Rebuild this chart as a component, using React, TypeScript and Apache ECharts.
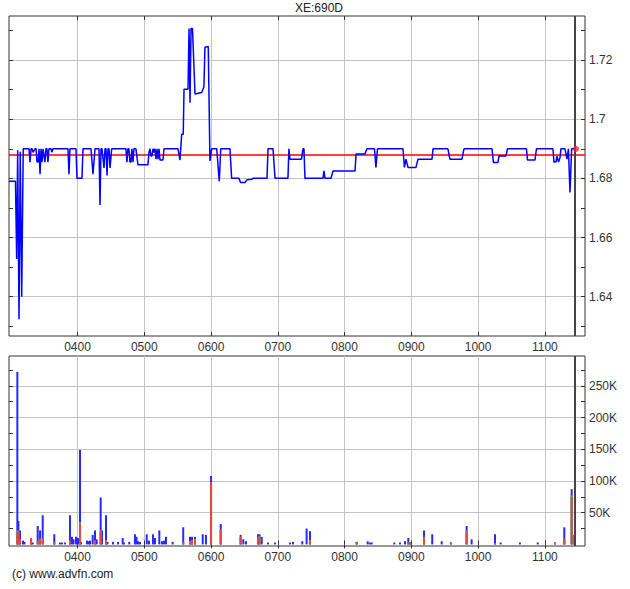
import React, { useEffect, useRef } from 'react';
import * as echarts from 'echarts';

const TITLE = 'XE:690D';
const COPYRIGHT = '(c) www.advfn.com';

// time axis in minutes since midnight
const X_MIN = 178.4;
const X_MAX = 696.1;
const HOUR_TICKS = [240, 300, 360, 420, 480, 540, 600, 660];

const PRICE_MIN = 1.6267;
const PRICE_MAX = 1.7349;
const PRICE_LABELS = [1.64, 1.66, 1.68, 1.7, 1.72];
const PRICE_TICKS = [1.63, 1.64, 1.65, 1.66, 1.67, 1.68, 1.69, 1.7, 1.71, 1.72, 1.73];
const PREV_CLOSE = 1.688;
const NOW_TIME = 687.1;
const LAST_TIME = 688.0;
const LAST_PRICE = 1.69;

const VOL_MIN = -2500;
const VOL_MAX = 297000;
const VOL_LABELS = [50000, 100000, 150000, 200000, 250000];
const VOL_TICKS = [25000, 50000, 75000, 100000, 125000, 150000, 175000, 200000, 225000, 250000, 275000];

const priceTime = [
  178.4, 184.2, 185.3, 186.2, 187.4, 188.5, 189.8, 191.2, 196.4, 197.3, 198.2, 199.1, 200.0, 201.8, 202.7,
  203.6, 204.5, 205.4, 206.3, 207.2, 208.1, 209.0, 210.7, 211.6, 212.5, 213.4, 214.3, 216.1, 217.0, 217.9,
  231.4, 232.3, 233.2, 238.6, 239.5, 244.0, 244.9, 252.1, 253.9, 255.7, 259.3, 260.2, 261.1, 262.0, 263.8,
  264.7, 265.6, 266.5, 267.4, 268.3, 269.2, 270.7, 283.5, 284.4, 285.3, 286.2, 287.1, 288.0, 288.9, 289.8,
  290.7, 292.5, 294.3, 303.3, 304.2, 305.1, 306.0, 306.9, 307.8, 308.7, 309.6, 310.5, 311.4, 312.3, 313.2,
  314.1, 316.8, 317.7, 330.3, 332.1, 333.6, 335.0, 335.7, 339.3, 340.2, 341.1, 342.0, 343.3, 345.6, 351.6,
  353.6, 354.5, 357.5, 359.0, 360.6, 365.1, 367.4, 368.7, 377.0, 378.5, 385.1, 386.5, 390.5, 392.3, 396.8,
  397.7, 410.3, 411.2, 415.7, 417.5, 429.1, 430.0, 430.9, 441.3, 442.6, 443.5, 444.4, 460.6, 461.5, 462.4,
  467.8, 469.6, 489.4, 490.3, 498.3, 500.1, 506.9, 508.2, 509.6, 532.5, 533.8, 535.2, 537.0, 544.2, 546.0,
  558.6, 559.5, 572.9, 574.7, 585.5, 587.3, 612.5, 613.8, 617.9, 618.8, 625.1, 626.4, 643.5, 644.4, 651.1,
  652.5, 667.3, 668.2, 670.0, 670.9, 672.3, 673.6, 674.5, 678.1, 679.9, 681.2, 682.6, 684.1, 687.1,
];
const priceValue = [
  1.679, 1.679, 1.6527, 1.6895, 1.6324, 1.689, 1.64, 1.69, 1.69, 1.6855, 1.69, 1.69, 1.6888, 1.69, 1.69,
  1.6855, 1.6855, 1.69, 1.6814, 1.69, 1.6855, 1.69, 1.6855, 1.69, 1.69, 1.6855, 1.69, 1.69, 1.6888, 1.69,
  1.69, 1.6814, 1.69, 1.69, 1.68, 1.68, 1.69, 1.69, 1.6814, 1.69, 1.69, 1.671, 1.69, 1.69, 1.6835,
  1.69, 1.69, 1.681, 1.69, 1.69, 1.6835, 1.69, 1.69, 1.6855, 1.69, 1.69, 1.6855, 1.6855, 1.69, 1.6855,
  1.69, 1.69, 1.6846, 1.6846, 1.6888, 1.69, 1.6876, 1.6876, 1.69, 1.6887, 1.69, 1.6865, 1.69, 1.6865, 1.69,
  1.6862, 1.6862, 1.69, 1.69, 1.6862, 1.6949, 1.6949, 1.7101, 1.7101, 1.7307, 1.7056, 1.7307, 1.7307, 1.7085, 1.709,
  1.711, 1.7243, 1.7246, 1.6859, 1.69, 1.69, 1.679, 1.69, 1.69, 1.68, 1.68, 1.6786, 1.6786, 1.6795, 1.6797,
  1.68, 1.68, 1.69, 1.69, 1.68, 1.68, 1.69, 1.6865, 1.6865, 1.69, 1.69, 1.68, 1.68, 1.6825, 1.68,
  1.68, 1.6825, 1.6825, 1.6882, 1.6882, 1.69, 1.69, 1.6837, 1.69, 1.69, 1.6837, 1.6865, 1.6837, 1.6837, 1.6865,
  1.6865, 1.69, 1.69, 1.6865, 1.6865, 1.69, 1.69, 1.6854, 1.6854, 1.6876, 1.6876, 1.69, 1.69, 1.6862, 1.6862,
  1.69, 1.69, 1.6855, 1.6855, 1.6875, 1.6855, 1.687, 1.69, 1.69, 1.6865, 1.69, 1.6752, 1.69, 1.69,
];

const volTime = [
  185.9, 186.8, 188.3, 191.0, 192.3, 198.2, 199.7, 204.2, 206.3, 208.7, 219.1, 224.2, 226.0, 228.7, 233.2,
  235.0, 236.4, 238.6, 240.4, 242.2, 243.1, 248.5, 250.3, 251.2, 253.6, 255.7, 257.2, 260.8, 262.0, 265.6,
  266.9, 271.9, 276.4, 280.6, 281.7, 286.5, 291.6, 293.0, 294.3, 296.1, 302.2, 304.2, 307.8, 309.6, 313.5,
  315.9, 317.7, 319.5, 325.5, 335.0, 341.1, 342.9, 345.6, 352.5, 355.4, 360.0, 368.7, 386.6, 389.0, 391.4,
  402.2, 403.5, 405.5, 411.2, 417.5, 430.9, 433.6, 442.0, 445.9, 448.9, 490.9, 500.8, 502.8, 504.4, 524.7,
  529.8, 534.3, 537.3, 538.8, 551.4, 558.8, 567.3, 575.6, 589.7, 594.2, 615.2, 620.3, 637.6, 653.6, 669.1,
  677.5, 684.1, 686.5,
];
const volSell = [
  20000, 20000, 8000, 0, 0, 10000, 0, 5000, 8000, 8000, 3000, 0, 0, 0, 5000,
  0, 0, 0, 0, 33000, 0, 0, 0, 0, 0, 5000, 0, 20000, 0, 6000,
  0, 0, 0, 0, 0, 0, 0, 0, 0, 0, 0, 0, 0, 0, 0,
  0, 0, 0, 0, 4000, 4000, 6000, 8000, 0, 0, 98000, 23000, 12000, 0, 0,
  10000, 12000, 0, 0, 0, 0, 0, 0, 0, 6000, 4000, 0, 0, 0, 0,
  0, 0, 3000, 3000, 11000, 0, 0, 3000, 20000, 0, 2000, 0, 0, 0, 3000,
  8000, 75000, 5000,
];
const volMid = [
  2000, 1500, 0, 0, 0, 0, 0, 1000, 1000, 1000, 0, 0, 0, 0, 1000,
  0, 0, 0, 0, 2000, 0, 0, 0, 0, 0, 1000, 0, 2000, 0, 1000,
  0, 0, 0, 0, 0, 0, 0, 0, 0, 0, 0, 0, 0, 0, 0,
  0, 0, 0, 0, 0, 1000, 1000, 1000, 0, 0, 0, 1000, 0, 0, 0,
  1000, 1000, 0, 0, 0, 0, 0, 0, 0, 1000, 0, 0, 0, 0, 0,
  0, 0, 0, 0, 1000, 0, 0, 0, 1500, 0, 0, 0, 0, 0, 0,
  1000, 2000, 0,
];
const volBuy = [
  250000, 15500, 14000, 6000, 4000, 0, 3000, 23000, 13000, 37000, 13000, 3000, 3000, 3000, 40000,
  12000, 8000, 12000, 10000, 114000, 4000, 6000, 5000, 6000, 15000, 16000, 8000, 52000, 22000, 39000,
  4000, 4000, 4000, 10000, 3000, 4000, 16000, 12000, 5000, 4000, 16000, 6000, 16000, 10000, 22000,
  5000, 6000, 12000, 4000, 23000, 7000, 5000, 3000, 16000, 15000, 10000, 8000, 3000, 8000, 5000,
  5000, 3000, 12000, 3000, 3000, 3000, 4000, 5000, 25000, 14000, 0, 5000, 3000, 3000, 3000,
  3000, 5000, 7000, 0, 10000, 16000, 5000, 0, 7500, 8000, 14000, 3000, 3000, 3000, 0,
  18000, 10000, 10000,
];

const FONT = 'Arial, "Liberation Sans", sans-serif';
const TEXT_COLOR = '#333';
const GRID_COLOR = '#c4c4c4';
const FRAME_COLOR = '#333';

const hourLabel = (v: number) => {
  const h = Math.floor(v / 60);
  const m = Math.round(v % 60);
  return String(h).padStart(2, '0') + String(m).padStart(2, '0');
};

function makeX(gridIndex: number, position: 'bottom' | 'top', main: boolean) {
  return {
    gridIndex,
    type: 'value',
    min: X_MIN,
    max: X_MAX,
    position,
    axisLine: { show: false },
    axisTick: {
      show: true,
      inside: true,
      length: 4,
      customValues: HOUR_TICKS,
      lineStyle: { color: FRAME_COLOR, width: 1 },
    },
    axisLabel: main
      ? {
          show: true,
          customValues: HOUR_TICKS,
          formatter: hourLabel,
          color: TEXT_COLOR,
          fontSize: 12,
          fontFamily: FONT,
          margin: 5,
        }
      : { show: false },
    splitLine: { show: main, lineStyle: { color: GRID_COLOR, width: 1 } },
  };
}

function makeYMain(gridIndex: number, min: number, max: number, labels: number[], fmt?: (v: number) => string) {
  return {
    gridIndex,
    type: 'value',
    position: 'right',
    min,
    max,
    axisLine: { show: false },
    axisTick: { show: false, customValues: labels },
    axisLabel: {
      show: true,
      customValues: labels,
      formatter: fmt,
      color: TEXT_COLOR,
      fontSize: 12,
      fontFamily: FONT,
      margin: 4,
    },
    splitLine: { show: true, lineStyle: { color: GRID_COLOR, width: 1 } },
  };
}

function makeYTicks(gridIndex: number, min: number, max: number, ticks: number[], position: 'left' | 'right') {
  return {
    gridIndex,
    type: 'value',
    position,
    min,
    max,
    axisLine: { show: false },
    axisTick: {
      show: true,
      inside: true,
      length: 4,
      customValues: ticks,
      lineStyle: { color: FRAME_COLOR, width: 1 },
    },
    axisLabel: { show: false },
    splitLine: { show: false },
  };
}

export default function App() {
  const ref = useRef<HTMLDivElement>(null);

  useEffect(() => {
    if (!ref.current) return;
    const chart = echarts.init(ref.current, undefined, { renderer: 'svg' });
    const priceData = priceTime.map((t, i) => [t, priceValue[i]]);
    // cumulative tops of the three stacked parts (red at the bottom, green, blue on top)
    const sellTop = volTime.map((t, i) => [t, volSell[i]]);
    const midTop = volTime.map((t, i) => [t, volSell[i] + volMid[i]]);
    const buyTop = volTime.map((t, i) => [t, volSell[i] + volMid[i] + volBuy[i]]);

    const barBase = {
      type: 'bar',
      xAxisIndex: 2,
      yAxisIndex: 3,
      barWidth: 2,
      barGap: '-100%',
      silent: true,
    };

    chart.setOption({
      animation: false,
      backgroundColor: '#ffffff',
      textStyle: { fontFamily: FONT },
      grid: [
        { left: 9, top: 16, width: 576, height: 320, show: true, borderColor: FRAME_COLOR, borderWidth: 1, backgroundColor: 'transparent' },
        { left: 9, top: 356, width: 576, height: 190, show: true, borderColor: FRAME_COLOR, borderWidth: 1, backgroundColor: 'transparent' },
      ],
      xAxis: [makeX(0, 'bottom', true), makeX(0, 'top', false), makeX(1, 'bottom', true), makeX(1, 'top', false)],
      yAxis: [
        makeYMain(0, PRICE_MIN, PRICE_MAX, PRICE_LABELS),
        makeYTicks(0, PRICE_MIN, PRICE_MAX, PRICE_TICKS, 'right'),
        makeYTicks(0, PRICE_MIN, PRICE_MAX, PRICE_TICKS, 'left'),
        makeYMain(1, VOL_MIN, VOL_MAX, VOL_LABELS, (v: number) => v / 1000 + 'K'),
        makeYTicks(1, VOL_MIN, VOL_MAX, VOL_TICKS, 'right'),
        makeYTicks(1, VOL_MIN, VOL_MAX, VOL_TICKS, 'left'),
      ],
      graphic: [
        {
          type: 'text',
          left: 295,
          top: 2,
          style: { text: TITLE, fill: '#222', font: '12px ' + FONT },
        },
        {
          type: 'text',
          left: 12,
          top: 568,
          style: { text: COPYRIGHT, fill: '#222', font: '12px ' + FONT },
        },
      ],
      series: [
        {
          type: 'line',
          name: 'price',
          xAxisIndex: 0,
          yAxisIndex: 0,
          data: priceData,
          symbol: 'none',
          lineStyle: { color: '#0000ff', width: 1.5 },
          z: 5,
          markLine: {
            silent: true,
            precision: 4,
            symbol: ['none', 'none'],
            label: { show: false },
            data: [
              { yAxis: PREV_CLOSE, lineStyle: { color: '#ff0000', width: 1.5, type: 'solid' } },
              { xAxis: NOW_TIME, lineStyle: { color: '#444', width: 2, type: 'solid' } },
            ],
          },
        },
        {
          type: 'scatter',
          xAxisIndex: 0,
          yAxisIndex: 0,
          data: [[LAST_TIME, LAST_PRICE]],
          symbol: 'circle',
          symbolSize: 6,
          itemStyle: { color: '#ff2020' },
          z: 6,
        },
        {
          ...barBase,
          name: 'buy',
          data: buyTop,
          itemStyle: { color: '#2828ff' },
          markLine: {
            silent: true,
            precision: 4,
            symbol: ['none', 'none'],
            label: { show: false },
            data: [{ xAxis: NOW_TIME, lineStyle: { color: '#444', width: 2, type: 'solid' } }],
          },
        },
        {
          ...barBase,
          name: 'mid',
          data: midTop,
          itemStyle: { color: '#40c040' },
        },
        {
          ...barBase,
          name: 'sell',
          data: sellTop,
          itemStyle: { color: '#f04040' },
        },
      ],
    });
    return () => chart.dispose();
  }, []);

  return (
    <div
      ref={ref}
      style={{ position: 'fixed', left: 0, top: 0, width: 630, height: 589, background: '#fff' }}
    />
  );
}
